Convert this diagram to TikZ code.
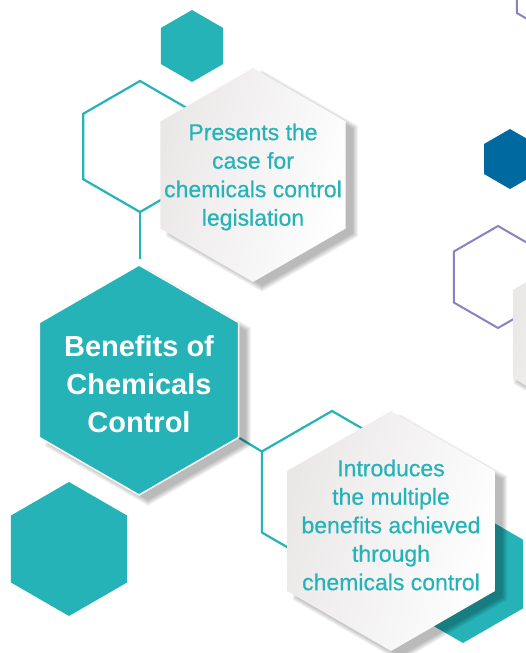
\documentclass[tikz,border=0pt]{standalone}
\usepackage{fontspec}
\setmainfont{Liberation Sans}
\newfontfamily\medfont[FakeBold=0.5]{Liberation Sans}
\definecolor{tealc}{RGB}{37,179,184}
\definecolor{darkblue}{RGB}{0,106,160}
\definecolor{purplec}{RGB}{139,128,192}
\definecolor{hexgray}{RGB}{234,231,231}
\newcommand{\hexat}[3]{({#1},{(#2)-(#3)}) -- ({(#1)+0.8660*(#3)},{(#2)-0.5*(#3)}) -- ({(#1)+0.8660*(#3)},{(#2)+0.5*(#3)}) -- ({#1},{(#2)+(#3)}) -- ({(#1)-0.8660*(#3)},{(#2)+0.5*(#3)}) -- ({(#1)-0.8660*(#3)},{(#2)-0.5*(#3)}) -- cycle}
\newcommand{\softshadow}[5]{%
  \foreach \k in {1,...,10}{\fill[black,opacity=0.03] \hexat{(#1)+(#4)}{(#2)+(#5)}{(#3)+\k*0.7-3};}}
\tikzset{
  tealline/.style={draw=tealc,line width=2.2pt,line join=miter},
  purpleline/.style={draw=purplec,line width=2pt},
  grayhex/.style={left color=hexgray,right color=white,shading angle=75},
  smalltext/.style={text=tealc,align=center,font=\medfont\fontsize{23}{28.5}\selectfont},
  bigtext/.style={text=white,align=center,font=\fontsize{29}{38}\selectfont\bfseries}
}
\begin{document}
\begin{tikzpicture}[x=1pt,y=-1pt]
\useasboundingbox (0,0) rectangle (526,653);
\clip (0,0) rectangle (526,653);
% right side decorations
\draw[purpleline] \hexat{561}{-12.5}{51};
\draw[purpleline] \hexat{498}{277}{51};
\fill[darkblue] \hexat{510}{159}{30};
\softshadow{589}{334}{88}{4}{4}
\shade[grayhex] \hexat{589}{334}{88};
% top-left group
\fill[tealc] \hexat{192}{46}{36};
\draw[tealline] \hexat{140}{146.5}{65.5};
\coordinate (outAbottom) at (140,212);
\coordinate (mainTopGap) at (140,259);
\draw[tealline] (outAbottom) -- (mainTopGap);
\softshadow{253}{175}{107}{9}{6}
\shade[grayhex] \hexat{253}{175}{107};
\node[smalltext] (presents) at (253,177) {Presents the\\case for\\chemicals control\\legislation};
% middle outline hexagon and connector
\draw[tealline] \hexat{332}{492}{81};
\coordinate (mainBR) at ({139+0.866*115},{380+57.5});
\coordinate (outBTL) at ({332-0.866*81},{492-40.5});
\draw[tealline] (mainBR) -- (outBTL);
% main hexagon
\softshadow{139}{380}{115}{9}{7}
\filldraw[fill=tealc,draw=white,line width=1.5pt] \hexat{139}{380}{115};
\node[bigtext] (main) at (139,384) {Benefits of\\Chemicals\\Control};
% bottom-left hexagon
\fill[tealc] \hexat{69}{549}{67};
% bottom-right group
\fill[tealc] \hexat{463}{574}{69};
\softshadow{391}{531}{120}{9}{7}
\shade[grayhex] \hexat{391}{531}{120};
\node[smalltext] (introduces) at (391,525) {Introduces\\the multiple\\benefits achieved\\through\\chemicals control};
\end{tikzpicture}
\end{document}
